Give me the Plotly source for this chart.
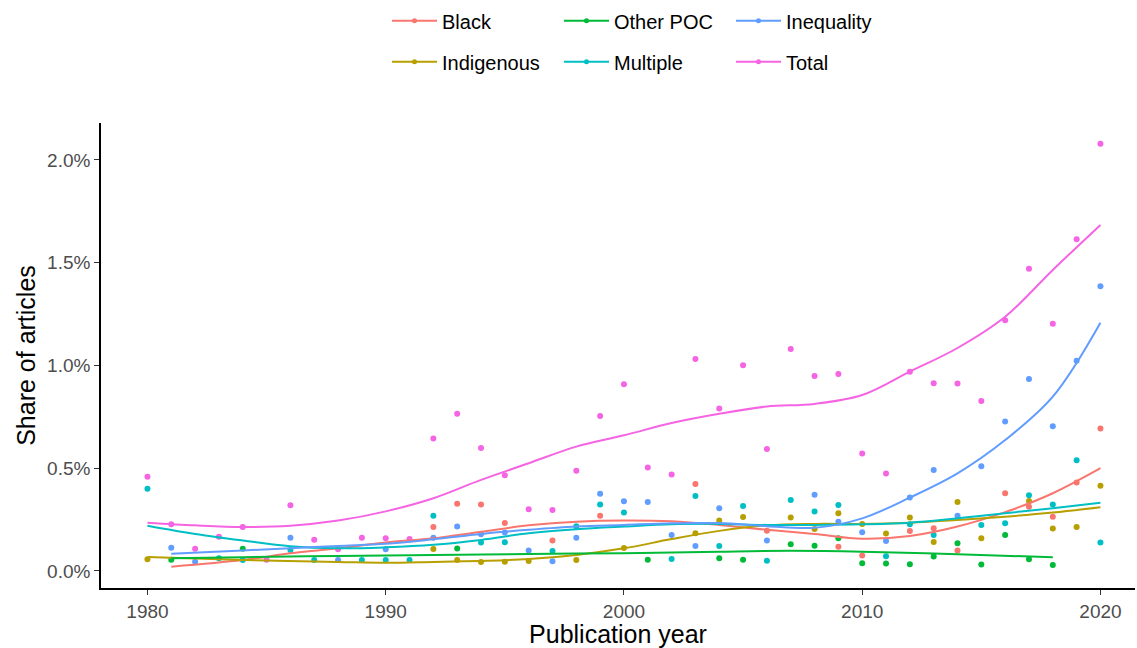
import plotly.graph_objects as go

# ---------------- data (share of articles, in %) ----------------
black_years = [1992, 1993, 1994, 1995, 1997, 1999, 2003, 2006, 2009, 2010, 2012, 2013, 2014, 2016, 2017, 2018, 2019, 2020]
black_vals = [0.214, 0.327, 0.323, 0.233, 0.148, 0.269, 0.423, 0.196, 0.118, 0.075, 0.195, 0.208, 0.100, 0.378, 0.313, 0.264, 0.430, 0.693]

indig_years = [1980, 1992, 1993, 1994, 1995, 1996, 1998, 2000, 2003, 2004, 2005, 2007, 2008, 2009, 2010, 2011, 2012, 2013, 2014, 2015, 2017, 2018, 2019, 2020]
indig_vals = [0.057, 0.107, 0.053, 0.043, 0.045, 0.048, 0.053, 0.112, 0.183, 0.245, 0.263, 0.260, 0.204, 0.281, 0.229, 0.182, 0.260, 0.141, 0.336, 0.159, 0.341, 0.206, 0.214, 0.415]

other_years = [1981, 1984, 1993, 2001, 2004, 2005, 2007, 2008, 2009, 2010, 2011, 2012, 2013, 2014, 2015, 2016, 2017, 2018]
other_vals = [0.054, 0.108, 0.109, 0.055, 0.062, 0.054, 0.130, 0.123, 0.159, 0.037, 0.036, 0.033, 0.070, 0.135, 0.031, 0.175, 0.057, 0.029]

mult_years = [1980, 1983, 1984, 1986, 1987, 1989, 1990, 1991, 1992, 1994, 1995, 1997, 1998, 1999, 2000, 2002, 2003, 2004, 2005, 2006, 2007, 2008, 2009, 2011, 2012, 2013, 2015, 2016, 2017, 2018, 2019, 2020]
mult_vals = [0.400, 0.062, 0.053, 0.102, 0.053, 0.053, 0.053, 0.053, 0.269, 0.138, 0.140, 0.097, 0.218, 0.323, 0.284, 0.058, 0.365, 0.122, 0.316, 0.050, 0.345, 0.289, 0.321, 0.071, 0.227, 0.175, 0.224, 0.232, 0.368, 0.323, 0.539, 0.138]

ineq_years = [1981, 1982, 1986, 1988, 1990, 1992, 1993, 1994, 1995, 1996, 1997, 1998, 1999, 2000, 2001, 2002, 2003, 2004, 2006, 2008, 2009, 2010, 2011, 2012, 2013, 2014, 2015, 2016, 2017, 2018, 2019, 2020]
ineq_vals = [0.113, 0.045, 0.162, 0.053, 0.106, 0.162, 0.216, 0.178, 0.187, 0.099, 0.047, 0.162, 0.376, 0.339, 0.336, 0.175, 0.122, 0.305, 0.148, 0.371, 0.240, 0.188, 0.146, 0.357, 0.491, 0.269, 0.510, 0.727, 0.934, 0.704, 1.023, 1.385]

total_years = list(range(1980, 2021))
total_vals = [0.459, 0.227, 0.108, 0.167, 0.214, 0.055, 0.320, 0.152, 0.106, 0.162, 0.159, 0.155, 0.644, 0.765, 0.598, 0.466, 0.300, 0.297, 0.488, 0.754,
              0.908, 0.503, 0.469, 1.032, 0.790, 1.001, 0.594, 1.080, 0.949, 0.959, 0.571, 0.474, 0.970, 0.913, 0.912, 0.827, 1.220, 1.471, 1.203, 1.614, 2.079]

# smoothed trend lines
black_s_years = [1981, 1984, 1986, 1988, 1990, 1992, 1994, 1996, 1998, 2000, 2002, 2004, 2006, 2008, 2010, 2012, 2014, 2016, 2018, 2020]
black_s_vals = [0.021, 0.053, 0.086, 0.110, 0.138, 0.159, 0.191, 0.222, 0.240, 0.246, 0.242, 0.224, 0.200, 0.180, 0.157, 0.170, 0.216, 0.286, 0.378, 0.500]

indig_s_years = [1980, 1984, 1988, 1990, 1992, 1994, 1996, 1998, 2000, 2002, 2004, 2006, 2008, 2010, 2012, 2014, 2016, 2018, 2020]
indig_s_vals = [0.068, 0.053, 0.044, 0.040, 0.044, 0.049, 0.058, 0.078, 0.110, 0.155, 0.195, 0.222, 0.229, 0.229, 0.235, 0.248, 0.264, 0.284, 0.310]

other_s_years = [1981, 1984, 1988, 1992, 1996, 2000, 2004, 2007, 2010, 2014, 2018]
other_s_vals = [0.062, 0.067, 0.073, 0.077, 0.083, 0.086, 0.094, 0.098, 0.094, 0.081, 0.067]

mult_s_years = [1980, 1982, 1984, 1986, 1988, 1990, 1992, 1994, 1996, 1998, 2000, 2002, 2004, 2006, 2008, 2010, 2012, 2014, 2016, 2018, 2020]
mult_s_vals = [0.220, 0.180, 0.148, 0.120, 0.110, 0.115, 0.127, 0.151, 0.183, 0.203, 0.216, 0.227, 0.229, 0.224, 0.224, 0.227, 0.235, 0.256, 0.281, 0.305, 0.332]

ineq_s_years = [1981, 1984, 1986, 1988, 1990, 1992, 1994, 1996, 1998, 2000, 2002, 2004, 2006, 2008, 2010, 2012, 2014, 2016, 2018, 2020]
ineq_s_vals = [0.084, 0.100, 0.110, 0.122, 0.132, 0.154, 0.180, 0.200, 0.216, 0.224, 0.232, 0.233, 0.218, 0.210, 0.256, 0.357, 0.475, 0.637, 0.848, 1.208]

total_s_years = [1980, 1982, 1984, 1986, 1988, 1990, 1992, 1994, 1996, 1998, 2000, 2002, 2004, 2006, 2008, 2010, 2012, 2014, 2016, 2018, 2020]
total_s_vals = [0.235, 0.222, 0.214, 0.220, 0.245, 0.290, 0.354, 0.443, 0.524, 0.605, 0.660, 0.720, 0.765, 0.800, 0.813, 0.856, 0.970, 1.085, 1.237, 1.465, 1.684]

series_names = ["Black", "Indigenous", "Other POC", "Multiple", "Inequality", "Total"]
colors = ["#F8766D", "#B79F00", "#00BA38", "#00BFC4", "#619CFF", "#F564E3"]
y_ticks = [0.0, 0.5, 1.0, 1.5, 2.0]
y_tick_labels = ["0.0%", "0.5%", "1.0%", "1.5%", "2.0%"]
x_ticks = [1980, 1990, 2000, 2010, 2020]

points = [(black_years, black_vals), (indig_years, indig_vals), (other_years, other_vals),
          (mult_years, mult_vals), (ineq_years, ineq_vals), (total_years, total_vals)]
smooths = [(black_s_years, black_s_vals), (indig_s_years, indig_s_vals), (other_s_years, other_s_vals),
           (mult_s_years, mult_s_vals), (ineq_s_years, ineq_s_vals), (total_s_years, total_s_vals)]

fig = go.Figure()

for name, col, (px_, py_) in zip(series_names, colors, points):
    fig.add_trace(go.Scatter(x=px_, y=py_, mode="markers", marker=dict(color=col, size=6),
                             showlegend=False, name=name))
for name, col, (sx, sy) in zip(series_names, colors, smooths):
    fig.add_trace(go.Scatter(x=sx, y=sy, mode="lines", line=dict(color=col, width=2, shape="spline", smoothing=1.0),
                             showlegend=False, name=name))

# legend entries (ggplot-style: row 1 / row 2)
legend_rows = {"legend": ["Black", "Other POC", "Inequality"], "legend2": ["Indigenous", "Multiple", "Total"]}
for lg, names in legend_rows.items():
    for n in names:
        col = colors[series_names.index(n)]
        fig.add_trace(go.Scatter(x=[None], y=[None], mode="lines+markers", name=n,
                                 line=dict(color=col, width=2), marker=dict(color=col, size=5),
                                 showlegend=True, legend=lg))

FONT = "Liberation Sans, Arial, sans-serif"
leg_common = dict(orientation="h", xref="paper", yref="container", xanchor="left", yanchor="middle",
                  font=dict(family=FONT, size=20, color="#000000"),
                  entrywidth=112, entrywidthmode="pixels", bgcolor="rgba(0,0,0,0)", itemwidth=45,
                  traceorder="normal")

fig.update_layout(
    width=1137, height=648,
    margin=dict(l=101, r=2, t=123, b=60),
    plot_bgcolor="white", paper_bgcolor="white",
    font=dict(family=FONT),
    legend=dict(**leg_common, x=(387 - 101) / 1034, y=1 - 20.7 / 648),
    legend2=dict(**leg_common, x=(387 - 101) / 1034, y=1 - 61.7 / 648),
    xaxis=dict(range=[1978.05, 2021.45], tickvals=x_ticks, ticktext=[str(t) for t in x_ticks],
               showgrid=False, zeroline=False, showline=True, linecolor="black", linewidth=1.6,
               ticks="outside", ticklen=5, tickcolor="#333333", tickwidth=1.2,
               tickfont=dict(size=19, color="#4D4D4D"),
               title=dict(text="Publication year", font=dict(size=25, color="black"), standoff=3)),
    yaxis=dict(range=[-0.083, 2.18], tickvals=y_ticks, ticktext=y_tick_labels,
               showgrid=False, zeroline=False, showline=True, linecolor="black", linewidth=1.6,
               ticks="outside", ticklen=5, tickcolor="#333333", tickwidth=1.2,
               tickfont=dict(size=19, color="#4D4D4D"),
               title=dict(text="Share of articles", font=dict(size=25, color="black"), standoff=4)),
)

fig.write_html("out.html", config={"displayModeBar": False},
               post_script="document.body.style.margin='0';")
